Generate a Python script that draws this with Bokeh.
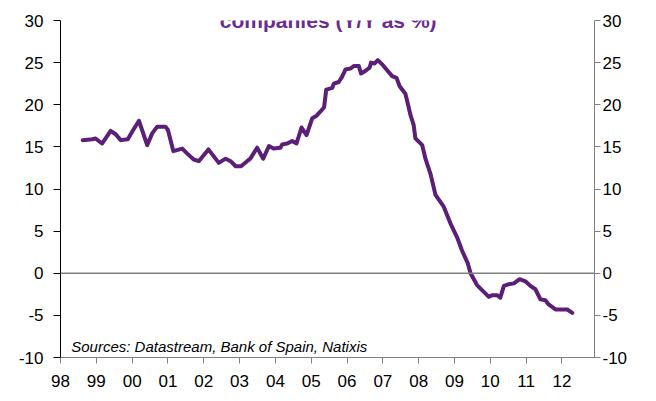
from bokeh.plotting import figure
from bokeh.models import Range1d, LinearAxis, FixedTicker, Span, Label, ColumnDataSource
from bokeh.embed import file_html
from bokeh.resources import INLINE

# Data (decimal year, Y/Y %)
dates = [1998.62, 1998.89, 1998.98, 1999.16, 1999.40, 1999.54, 1999.68, 1999.88,
         2000.00, 2000.19, 2000.42, 2000.56, 2000.70, 2000.93, 2001.00, 2001.15,
         2001.40, 2001.54, 2001.72, 2001.86, 2002.13, 2002.42, 2002.61, 2002.75,
         2002.89, 2003.04, 2003.21, 2003.30, 2003.49, 2003.66, 2003.82, 2003.95,
         2004.14, 2004.19, 2004.33, 2004.47, 2004.59, 2004.73, 2004.87, 2005.03,
         2005.15, 2005.26, 2005.36, 2005.42, 2005.59, 2005.63, 2005.77, 2005.86,
         2005.96, 2006.10, 2006.19, 2006.33, 2006.39, 2006.51, 2006.63, 2006.67,
         2006.77, 2006.86, 2006.98, 2007.12, 2007.26, 2007.38, 2007.47, 2007.63,
         2007.70, 2007.77, 2007.86, 2007.91, 2008.10, 2008.19, 2008.33, 2008.47,
         2008.70, 2008.89, 2009.07, 2009.21, 2009.37, 2009.45, 2009.63, 2009.77,
         2009.96, 2010.05, 2010.19, 2010.28, 2010.38, 2010.52, 2010.66, 2010.82,
         2010.98, 2011.12, 2011.26, 2011.40, 2011.54, 2011.63, 2011.82, 2011.96,
         2012.15, 2012.29]
growth = [15.8, 15.9, 16.0, 15.4, 16.9, 16.5, 15.8, 15.9,
          16.8, 18.1, 15.2, 16.6, 17.4, 17.4, 17.0, 14.5,
          14.8, 14.2, 13.5, 13.3, 14.7, 13.1, 13.6, 13.3,
          12.7, 12.7, 13.3, 13.6, 14.9, 13.6, 15.1, 14.8,
          14.9, 15.3, 15.4, 15.7, 15.4, 17.3, 16.4, 18.4,
          18.7, 19.2, 19.7, 21.8, 22.0, 22.5, 22.7, 23.3,
          24.2, 24.3, 24.6, 24.6, 23.7, 24.0, 24.4, 25.0,
          24.9, 25.3, 24.8, 24.1, 23.4, 23.2, 22.2, 21.3,
          20.1, 18.8, 17.6, 16.0, 15.2, 13.6, 11.8, 9.3,
          7.9, 5.9, 4.3, 2.7, 1.2, 0.0, -1.4, -2.0,
          -2.8, -2.6, -2.6, -2.9, -1.5, -1.3, -1.2, -0.7,
          -0.95, -1.5, -1.9, -3.1, -3.2, -3.7, -4.3, -4.3,
          -4.3, -4.7]

years = list(range(1998, 2013))
year_labels = {y: f"{y % 100:02d}" for y in years}
y_ticks = [-10, -5, 0, 5, 10, 15, 20, 25, 30]
y_labels = {v: str(v) for v in y_ticks}

title_text = "companies (Y/Y as %)"
source_text = "Sources: Datastream, Bank of Spain, Natixis"

FONT = "Liberation Sans"
PURPLE = "#5B1F78"
GREY = "#808080"

p = figure(width=656, height=401, output_backend="svg", toolbar_location=None,
           x_range=Range1d(1998.0, 2012.91), y_range=Range1d(-10, 30),
           min_border_left=60, min_border_right=62, min_border_top=20,
           min_border_bottom=44)
p.outline_line_color = None
p.grid.visible = False
p.background_fill_color = "white"
p.border_fill_color = "white"

# left axis
ya = p.yaxis[0]
ya.ticker = FixedTicker(ticks=y_ticks)
ya.major_label_overrides = y_labels
ya.axis_line_color = "black"
ya.major_tick_line_color = "black"
ya.major_tick_out = 7
ya.major_tick_in = 0
ya.minor_tick_line_color = None
ya.major_label_standoff = 10
ya.major_label_text_font = FONT
ya.major_label_text_font_size = "17px"
ya.major_label_text_color = "black"

# right axis
ra = LinearAxis(ticker=FixedTicker(ticks=y_ticks))
ra.major_label_overrides = y_labels
ra.axis_line_color = GREY
ra.major_tick_line_color = GREY
ra.major_tick_out = 6
ra.major_tick_in = 0
ra.minor_tick_line_color = None
ra.major_label_standoff = 2
ra.major_label_text_font = FONT
ra.major_label_text_font_size = "17px"
ra.major_label_text_color = "black"
p.add_layout(ra, "right")

# bottom axis
xa = p.xaxis[0]
xa.ticker = FixedTicker(ticks=years)
xa.major_label_overrides = year_labels
xa.axis_line_color = GREY
xa.major_tick_line_color = GREY
xa.major_tick_out = 6
xa.major_tick_in = 0
xa.minor_tick_line_color = None
xa.major_label_standoff = 11
xa.major_label_text_font = FONT
xa.major_label_text_font_size = "17px"
xa.major_label_text_color = "black"

p.add_layout(Span(location=0, dimension="width", line_color=GREY, line_width=1.5))

src = ColumnDataSource(dict(x=dates, y=growth))
p.line("x", "y", source=src, line_color=PURPLE, line_width=4, line_join="round",
       line_cap="round")

p.add_layout(Label(x=2005.48, y=30.0, text=title_text, text_align="center",
                   text_baseline="alphabetic", text_font=FONT, text_font_style="bold",
                   text_font_size="21px", text_color="#6A2C8E"))
p.add_layout(Label(x=1998.30, y=-8.66, text=source_text, text_align="left",
                   text_baseline="alphabetic", text_font=FONT, text_font_style="italic",
                   text_font_size="15px", text_color="black"))

open("out.html", "w").write(file_html(p, INLINE))
